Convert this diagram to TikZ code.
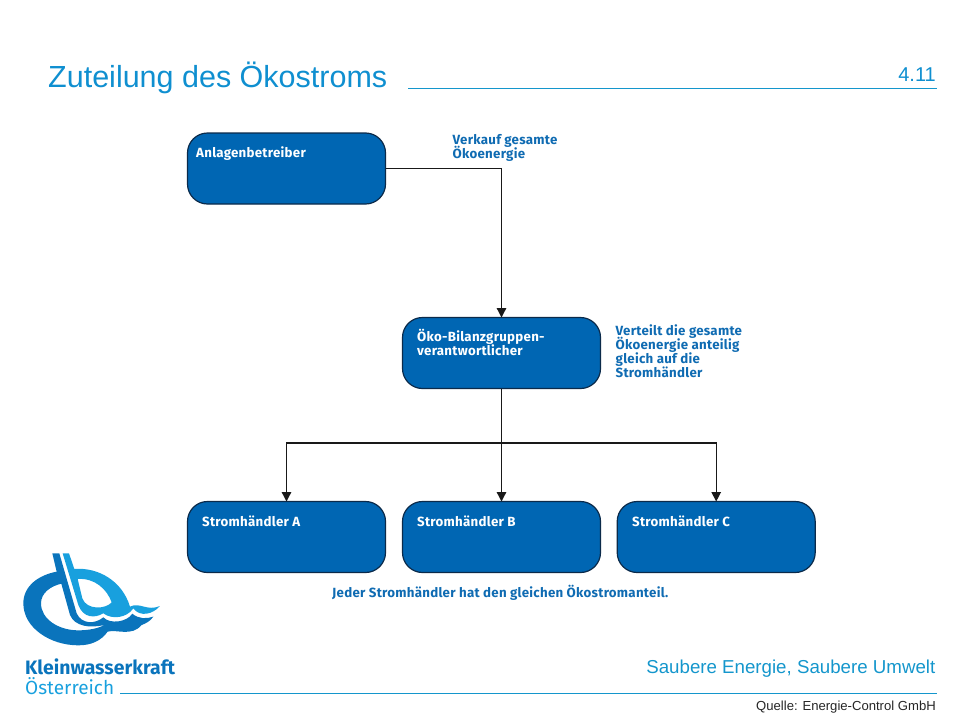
\documentclass[tikz,border=0pt]{standalone}
\usepackage{fontspec}
\setmainfont{Liberation Sans}
\newfontfamily\dinfont[LetterSpace=2]{Fira Sans}
\newfontfamily\dinlogo{Fira Sans}
\usetikzlibrary{arrows.meta}
\definecolor{boxblue}{HTML}{0066B3}
\definecolor{boxedge}{HTML}{0B2A4A}
\definecolor{notecol}{HTML}{0F6BB2}
\definecolor{titlecol}{HTML}{0F8FD0}
\definecolor{rulecol}{HTML}{1496CC}
\definecolor{logodark}{HTML}{0A74BC}
\definecolor{logolight}{HTML}{18A0DE}
\tikzset{
  flowbox/.style={draw=boxedge,fill=boxblue,line width=1.2pt,rounded corners=20pt,minimum width=198pt,minimum height=71pt,inner sep=0pt,outer sep=0pt},
  boxtext/.style={anchor=base west,inner sep=0pt,text=white,font=\dinfont\bfseries\fontsize{13.3}{14}\selectfont,align=left},
  notetext/.style={anchor=base west,inner sep=0pt,text=notecol,font=\dinfont\bfseries\fontsize{13.3}{14.2}\selectfont,align=left},
  flowline/.style={draw=black!90,line width=1.3pt},
  flowarrow/.style={flowline,-{Triangle[length=9.5pt,width=9.5pt]}},
  rulel/.style={draw=rulecol,line width=0.9pt}
}
\begin{document}
\begin{tikzpicture}[x=1pt,y=-1pt]
\useasboundingbox (0,0) rectangle (960,720);
% title
\node[anchor=base west,inner sep=0pt,text=titlecol,font=\fontsize{30.5}{32}\selectfont] (title) at (48,87.5) {Zuteilung des Ökostroms};
\node[anchor=base east,inner sep=0pt,text=titlecol,font=\fontsize{20}{22}\selectfont] (num) at (936,81) {4.11};
\coordinate (ruleA) at (408,88.5);\coordinate (ruleB) at (937,88.5);
\draw[rulel] (ruleA) -- (ruleB);
% boxes
\node[flowbox] (anl) at (286.5,168.5) {};
\node[flowbox] (oeko) at (501.5,353) {};
\node[flowbox] (hA) at (286.5,537) {};
\node[flowbox] (hB) at (501.5,537) {};
\node[flowbox] (hC) at (716.2,537) {};
\node[boxtext] (tanl) at (196,157) {Anlagenbetreiber};
\node[boxtext] (toeko1) at (417,341.5) {Öko-Bilanzgruppen-};
\node[boxtext] (toeko2) at (417,355) {verantwortlicher};
\node[boxtext] (tA) at (202,526) {Stromhändler A};
\node[boxtext] (tB) at (417,526) {Stromhändler B};
\node[boxtext] (tC) at (632,526) {Stromhändler C};
% notes
\node[notetext] (n1a) at (452.5,144) {Verkauf gesamte};
\node[notetext] (n1b) at (452.5,158) {Ökoenergie};
\node[notetext] (n2a) at (615.5,335) {Verteilt die gesamte};
\node[notetext] (n2b) at (615.5,349) {Ökoenergie anteilig};
\node[notetext] (n2c) at (615.5,363) {gleich auf die};
\node[notetext] (n2d) at (615.5,377) {Stromhändler};
\node[notetext] (n3) at (332,597.5) {Jeder Stromhändler hat den gleichen Ökostromanteil.};
% connectors
\coordinate (bus) at (501.5,443);
\draw[flowarrow] (anl.east) -| (oeko.north);
\draw[flowarrow] (oeko.south) -- (hB.north);
\draw[flowarrow] (bus) -| (hA.north);
\draw[flowarrow] (bus) -| (hC.north);
% logo
\begin{scope}[shift={(15,545)},x=0.3333pt,y=-0.3333pt]
\fill[logodark,even odd rule]
 (125,80) .. controls (72,90) and (25,122) .. (25,175)
 .. controls (25,248) and (105,301) .. (190,301)
 .. controls (228,301) and (258,288) .. (278,260)
 .. controls (305,252) and (350,276) .. (380,240)
 .. controls (390,236) and (405,230) .. (415,215)
 .. controls (395,222) and (370,222) .. (352,206)
 .. controls (335,232) and (285,238) .. (265,217)
 .. controls (240,238) and (200,238) .. (185,205)
 -- (133,25) -- (112,25) -- cycle
 (139,116) .. controls (105,124) and (78,145) .. (78,175)
 .. controls (78,222) and (130,256) .. (190,256)
 .. controls (222,256) and (250,250) .. (268,240)
 .. controls (225,250) and (180,245) .. (165,210) -- cycle;
\fill[logolight,even odd rule]
 (143,25) -- (162,25) -- (178,72)
 .. controls (250,66) and (322,108) .. (345,185)
 .. controls (375,170) and (395,200) .. (435,183)
 .. controls (415,207) and (375,218) .. (355,190)
 .. controls (335,220) and (290,224) .. (265,205)
 .. controls (240,220) and (205,220) .. (190,180) -- cycle
 (188,102) .. controls (238,98) and (276,132) .. (290,172)
 .. controls (272,193) and (215,196) .. (202,160) -- cycle;
\end{scope}
\node[anchor=base west,inner sep=0pt,text=logodark,font=\dinlogo\bfseries\fontsize{19.4}{20}\selectfont] (lg1) at (25,674) {Kleinwasserkraft};
\node[anchor=base west,inner sep=0pt,text=logolight,font=\dinlogo\fontsize{19}{20}\selectfont] (lg2) at (25,694) {Österreich};
% footer
\coordinate (ruleC) at (120,693.5);\coordinate (ruleD) at (937,693.5);
\draw[rulel] (ruleC) -- (ruleD);
\node[anchor=base east,inner sep=0pt,text=rulecol,font=\fontsize{18.7}{20}\selectfont] (slog) at (935.5,673) {Saubere Energie, Saubere Umwelt};
\node[anchor=base east,inner sep=0pt,text=black!85,font=\fontsize{13.1}{14}\selectfont] (src) at (936,710) {Quelle: Energie-Control GmbH};
\end{tikzpicture}
\end{document}
